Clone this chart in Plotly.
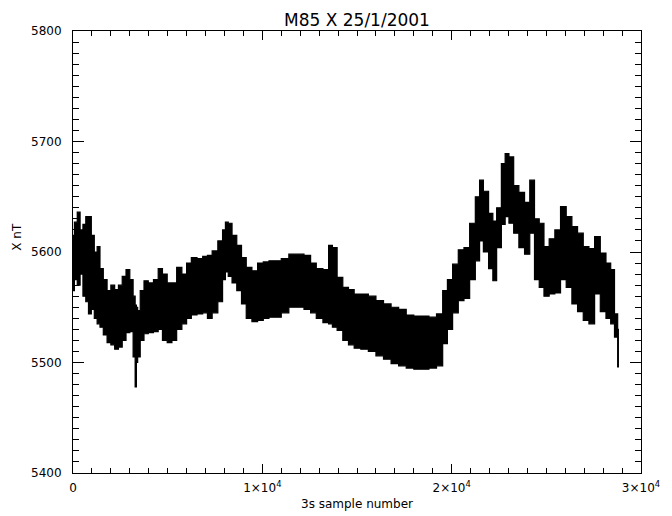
import plotly.graph_objects as go

# Envelope of the 3 s magnetometer X component
sample = [0, 150, 300, 450, 600, 750, 885, 1050, 1200, 1350, 1500, 1700, 1900, 2100, 2300,
          2500, 2700, 2900, 3100, 3250, 3315, 3380, 3450, 3650, 3850, 4100, 4400, 4600, 4850,
          5100, 5350, 5600, 5900, 6100, 6400, 6700, 7000, 7200, 7500, 7800, 8000, 8100, 8300,
          8500, 8800, 9000, 9300, 9600, 9900, 10200, 10500, 10800, 11200, 11600, 12000, 12400,
          12700, 13000, 13400, 13600, 13800, 14100, 14400, 14700, 15000, 15400, 15800, 16200,
          16600, 17000, 17400, 17800, 18200, 18600, 19000, 19400, 19650, 19900, 20200, 20500,
          20800, 21100, 21400, 21550, 21800, 22100, 22250, 22500, 22750, 22900, 23150, 23400,
          23700, 24000, 24250, 24500, 24750, 25000, 25300, 25600, 25900, 26200, 26500, 26800,
          27100, 27400, 27700, 28000, 28300, 28500, 28700, 28836]
x_low = [5565, 5575, 5570, 5580, 5560, 5555, 5544, 5548, 5540, 5535, 5532, 5525, 5518, 5516, 5512,
         5514, 5520, 5527, 5528, 5505, 5478, 5500, 5505, 5520, 5526, 5527, 5528, 5530, 5520,
         5518, 5520, 5530, 5535, 5540, 5543, 5544, 5545, 5540, 5545, 5555, 5575, 5582, 5578,
         5572, 5565, 5553, 5540, 5537, 5538, 5540, 5541, 5541, 5545, 5550, 5550, 5548,
         5545, 5540, 5536, 5535, 5532, 5529, 5520, 5516, 5513, 5512, 5510, 5506,
         5503, 5499, 5497, 5495, 5494, 5494, 5495, 5497, 5517, 5530, 5545, 5556,
         5558, 5575, 5592, 5610, 5600, 5585, 5574, 5604, 5625, 5632, 5626, 5617,
         5604, 5598, 5617, 5575, 5568, 5560, 5562, 5563, 5575, 5568, 5553, 5546,
         5538, 5535, 5562, 5546, 5540, 5535, 5523, 5496]
x_high = [5615, 5627, 5636, 5620, 5625, 5632, 5632, 5615, 5600, 5605, 5585, 5575, 5565, 5570, 5566,
          5570, 5578, 5584, 5575, 5560, 5552, 5550, 5547, 5565, 5574, 5572, 5575, 5585, 5580,
          5572, 5572, 5586, 5580, 5590, 5595, 5594, 5596, 5597, 5601, 5610, 5620, 5627, 5626,
          5615, 5606, 5595, 5586, 5583, 5590, 5591, 5592, 5592, 5594, 5598, 5598, 5597,
          5590, 5585, 5584, 5606, 5604, 5577, 5568, 5566, 5562, 5562, 5560, 5556,
          5553, 5550, 5548, 5543, 5542, 5542, 5541, 5544, 5565, 5575, 5589, 5602,
          5604, 5626, 5650, 5665, 5655, 5635, 5628, 5640, 5680, 5689, 5686, 5660,
          5654, 5645, 5665, 5630, 5626, 5605, 5612, 5620, 5641, 5632, 5623, 5617,
          5605, 5603, 5614, 5599, 5590, 5584, 5544, 5530]

x_tickvals = [0, 10000, 20000, 30000]
x_ticktext = ["0", "1×10<sup>4</sup>", "2×10<sup>4</sup>", "3×10<sup>4</sup>"]
y_tickvals = [5400, 5500, 5600, 5700, 5800]

FONT = "DejaVu Sans"

fig = go.Figure()
fig.add_trace(go.Scatter(x=sample, y=x_low, mode="lines",
                         line=dict(color="black", width=1.2, shape="hvh"), hoverinfo="skip"))
fig.add_trace(go.Scatter(x=sample, y=x_high, mode="lines", fill="tonexty",
                         fillcolor="black", line=dict(color="black", width=1.2, shape="hvh"),
                         hoverinfo="skip"))

axis_common = dict(showgrid=False, zeroline=False, showline=True, linecolor="black",
                   linewidth=1, mirror="allticks", ticks="inside", tickcolor="black",
                   tickwidth=1, tickfont=dict(family=FONT, size=12, color="black"))

fig.update_xaxes(range=[0, 30000], tickvals=x_tickvals, ticktext=x_ticktext,
                 ticklen=9, ticklabelstandoff=4,
                 minor=dict(dtick=1000, ticks="inside", ticklen=5, tickcolor="black",
                            tickwidth=1),
                 **axis_common)
fig.update_yaxes(range=[5400, 5800], tickvals=y_tickvals, ticklen=11,
                 ticklabelstandoff=8,
                 minor=dict(dtick=10, ticks="inside", ticklen=6, tickcolor="black",
                            tickwidth=1),
                 **axis_common)

fig.update_layout(
    width=672, height=516, autosize=False,
    margin=dict(l=73, r=23, t=31, b=43),
    paper_bgcolor="white", plot_bgcolor="white",
    showlegend=False,
    annotations=[
        dict(text="M85 X 25/1/2001", x=0.5, y=1.025, xref="paper", yref="paper",
             xanchor="center", yanchor="middle", showarrow=False,
             font=dict(family=FONT, size=17, color="black")),
        dict(text="3s sample number", x=0.5, y=-0.070, xref="paper", yref="paper",
             xanchor="center", yanchor="middle", showarrow=False,
             font=dict(family=FONT, size=12, color="black")),
        dict(text="X nT", x=-0.099, y=0.534, xref="paper", yref="paper",
             xanchor="center", yanchor="middle", showarrow=False, textangle=-90,
             font=dict(family=FONT, size=12, color="black")),
    ],
)

fig.write_html("out.html")
